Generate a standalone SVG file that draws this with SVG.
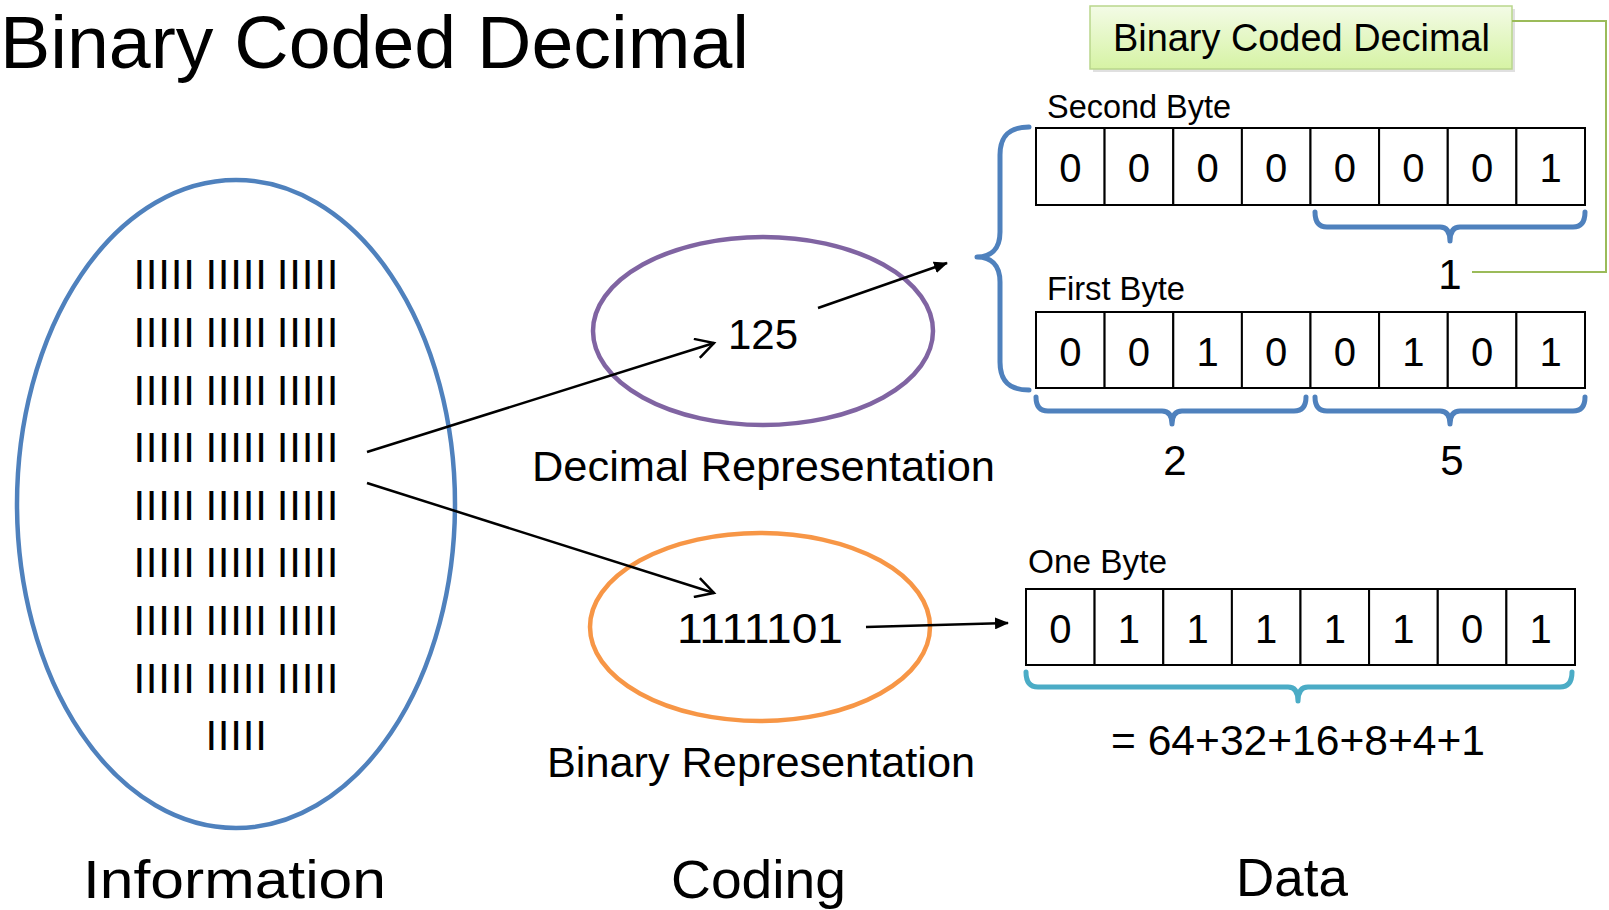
<svg xmlns="http://www.w3.org/2000/svg" width="1609" height="910" viewBox="0 0 1609 910">
<defs>
<style>
text{font-family:"Liberation Sans",Arial,sans-serif;fill:#000}
.cell{fill:#fff;stroke:#000;stroke-width:2}
.dg{font-size:40px;text-anchor:middle}
.num{font-size:42px}
.lbl{font-size:42px}
.byte{font-size:33px}
.big{font-size:53px}
.tally{font-size:42px;letter-spacing:0.8px}
.brace{fill:none;stroke:#4f81bd;stroke-width:5;stroke-linecap:round;stroke-linejoin:round}
.arrow{fill:none;stroke:#000;stroke-width:2.5}
</style>
<linearGradient id="gbox" x1="0" y1="0" x2="0" y2="1">
<stop offset="0" stop-color="#f3fbe6"/>
<stop offset="1" stop-color="#d6f3a4"/>
</linearGradient>
<marker id="tri" viewBox="0 0 14 12" refX="13" refY="6" markerWidth="14" markerHeight="12" markerUnits="userSpaceOnUse" orient="auto">
<path d="M0,0 L14,6 L0,12 z" fill="#000"/>
</marker>
<marker id="vee" viewBox="0 0 22 22" refX="19" refY="11" markerWidth="22" markerHeight="22" markerUnits="userSpaceOnUse" orient="auto">
<path d="M1,1 L19,11 L1,21" fill="none" stroke="#000" stroke-width="2.5"/>
</marker>
</defs>
<rect width="1609" height="910" fill="#fff"/>

<g id="title">
<text x="0" y="68" style="font-size:74px" textLength="749" lengthAdjust="spacingAndGlyphs">Binary Coded Decimal</text>
</g>

<g id="information">
<ellipse cx="236" cy="504" rx="219" ry="324" fill="none" stroke="#4f81bd" stroke-width="4.5"/>
<g class="tallies">
<text class="tally" y="289"><tspan x="133.4">IIIII</tspan><tspan x="205.4">IIIII</tspan><tspan x="276.8">IIIII</tspan></text>
<text class="tally" y="346.9"><tspan x="133.4">IIIII</tspan><tspan x="205.4">IIIII</tspan><tspan x="276.8">IIIII</tspan></text>
<text class="tally" y="404.5"><tspan x="133.4">IIIII</tspan><tspan x="205.4">IIIII</tspan><tspan x="276.8">IIIII</tspan></text>
<text class="tally" y="462.1"><tspan x="133.4">IIIII</tspan><tspan x="205.4">IIIII</tspan><tspan x="276.8">IIIII</tspan></text>
<text class="tally" y="519.7"><tspan x="133.4">IIIII</tspan><tspan x="205.4">IIIII</tspan><tspan x="276.8">IIIII</tspan></text>
<text class="tally" y="577.3"><tspan x="133.4">IIIII</tspan><tspan x="205.4">IIIII</tspan><tspan x="276.8">IIIII</tspan></text>
<text class="tally" y="634.9"><tspan x="133.4">IIIII</tspan><tspan x="205.4">IIIII</tspan><tspan x="276.8">IIIII</tspan></text>
<text class="tally" y="692.5"><tspan x="133.4">IIIII</tspan><tspan x="205.4">IIIII</tspan><tspan x="276.8">IIIII</tspan></text>
<text class="tally" y="750.1"><tspan x="205.4">IIIII</tspan></text>
</g>
<text class="big" x="83" y="898" textLength="303" lengthAdjust="spacingAndGlyphs">Information</text>
</g>

<g id="decimal">
<ellipse cx="763" cy="331" rx="170" ry="94" fill="none" stroke="#8064a2" stroke-width="4.5"/>
<text class="num" x="728" y="349">125</text>
<text class="lbl" x="532" y="481" textLength="463" lengthAdjust="spacingAndGlyphs">Decimal Representation</text>
</g>

<g id="binary">
<ellipse cx="760" cy="627" rx="170" ry="94" fill="none" stroke="#f79646" stroke-width="4.5"/>
<text class="num" x="677" y="643" textLength="166" lengthAdjust="spacingAndGlyphs">1111101</text>
<text class="lbl" x="547" y="777" textLength="428" lengthAdjust="spacingAndGlyphs">Binary Representation</text>
</g>

<g id="coding-label">
<text class="big" x="671" y="898" textLength="175" lengthAdjust="spacingAndGlyphs">Coding</text>
</g>

<g id="data-label">
<text class="big" x="1236" y="896" textLength="112" lengthAdjust="spacingAndGlyphs">Data</text>
</g>

<g id="bcd-box">
<rect x="1093" y="9" width="422" height="63" fill="#000" opacity="0.12"/>
<rect x="1090" y="6" width="422" height="63" fill="url(#gbox)" stroke="#b9d68c" stroke-width="1.5"/>
<text x="1113" y="51" style="font-size:38px" textLength="377" lengthAdjust="spacingAndGlyphs">Binary Coded Decimal</text>
</g>

<g id="second-byte">
<text class="byte" x="1047" y="118" textLength="184" lengthAdjust="spacingAndGlyphs">Second Byte</text>
<rect class="cell" x="1036" y="128" width="68.6" height="77"/>
<rect class="cell" x="1104.6" y="128" width="68.6" height="77"/>
<rect class="cell" x="1173.3" y="128" width="68.6" height="77"/>
<rect class="cell" x="1241.9" y="128" width="68.6" height="77"/>
<rect class="cell" x="1310.5" y="128" width="68.6" height="77"/>
<rect class="cell" x="1379.1" y="128" width="68.6" height="77"/>
<rect class="cell" x="1447.8" y="128" width="68.6" height="77"/>
<rect class="cell" x="1516.4" y="128" width="68.6" height="77"/>
<text class="dg" y="182"><tspan x="1070.3">0</tspan><tspan x="1138.9">0</tspan><tspan x="1207.6">0</tspan><tspan x="1276.2">0</tspan><tspan x="1344.8">0</tspan><tspan x="1413.4">0</tspan><tspan x="1482.1">0</tspan><tspan x="1550.7">1</tspan></text>
</g>

<g id="first-byte">
<text class="byte" x="1047" y="300" textLength="138" lengthAdjust="spacingAndGlyphs">First Byte</text>
<rect class="cell" x="1036" y="312" width="68.6" height="76"/>
<rect class="cell" x="1104.6" y="312" width="68.6" height="76"/>
<rect class="cell" x="1173.3" y="312" width="68.6" height="76"/>
<rect class="cell" x="1241.9" y="312" width="68.6" height="76"/>
<rect class="cell" x="1310.5" y="312" width="68.6" height="76"/>
<rect class="cell" x="1379.1" y="312" width="68.6" height="76"/>
<rect class="cell" x="1447.8" y="312" width="68.6" height="76"/>
<rect class="cell" x="1516.4" y="312" width="68.6" height="76"/>
<text class="dg" y="366"><tspan x="1070.3">0</tspan><tspan x="1138.9">0</tspan><tspan x="1207.6">1</tspan><tspan x="1276.2">0</tspan><tspan x="1344.8">0</tspan><tspan x="1413.4">1</tspan><tspan x="1482.1">0</tspan><tspan x="1550.7">1</tspan></text>
</g>

<g id="one-byte">
<text class="byte" x="1028" y="573" textLength="139" lengthAdjust="spacingAndGlyphs">One Byte</text>
<rect class="cell" x="1026" y="589" width="68.6" height="76"/>
<rect class="cell" x="1094.6" y="589" width="68.6" height="76"/>
<rect class="cell" x="1163.3" y="589" width="68.6" height="76"/>
<rect class="cell" x="1231.9" y="589" width="68.6" height="76"/>
<rect class="cell" x="1300.5" y="589" width="68.6" height="76"/>
<rect class="cell" x="1369.1" y="589" width="68.6" height="76"/>
<rect class="cell" x="1437.8" y="589" width="68.6" height="76"/>
<rect class="cell" x="1506.4" y="589" width="68.6" height="76"/>
<text class="dg" y="643"><tspan x="1060.3">0</tspan><tspan x="1128.9">1</tspan><tspan x="1197.6">1</tspan><tspan x="1266.2">1</tspan><tspan x="1334.8">1</tspan><tspan x="1403.4">1</tspan><tspan x="1472.1">0</tspan><tspan x="1540.7">1</tspan></text>
</g>

<g id="braces">
<path class="brace" d="M1029,127 C1010,127 1000,135 1000,155 L1000,232 C1000,250 990,257 977,257 C990,257 1000,264 1000,282 L1000,362 C1000,382 1010,390 1029,390"/>
<path class="brace" d="M1315,212 Q1315,227 1327,227 L1440,227 Q1450,227 1450,241 Q1450,227 1460,227 L1573,227 Q1585,227 1585,212"/>
<path class="brace" d="M1036,397 Q1036,411 1048,411 L1162,411 Q1172,411 1172,424 Q1172,411 1182,411 L1294,411 Q1306,411 1306,397"/>
<path class="brace" d="M1315,397 Q1315,411 1327,411 L1440,411 Q1450,411 1450,424 Q1450,411 1460,411 L1573,411 Q1585,411 1585,397"/>
<path class="brace" style="stroke:#4bacc6" d="M1026,672 Q1026,687 1038,687 L1288,687 Q1298,687 1298,701 Q1298,687 1308,687 L1560,687 Q1572,687 1572,672"/>
</g>

<g id="brace-values">
<text class="num" x="1450" y="289" text-anchor="middle">1</text>
<text class="num" x="1175" y="475" text-anchor="middle">2</text>
<text class="num" x="1452" y="475" text-anchor="middle">5</text>
<text class="num" x="1111" y="755" textLength="374" lengthAdjust="spacingAndGlyphs">= 64+32+16+8+4+1</text>
</g>

<g id="connectors">
<line class="arrow" x1="367" y1="452" x2="714" y2="343" marker-end="url(#vee)"/>
<line class="arrow" x1="367" y1="483" x2="714" y2="593" marker-end="url(#vee)"/>
<line class="arrow" x1="818" y1="308" x2="947" y2="263" marker-end="url(#tri)"/>
<line class="arrow" x1="866" y1="627" x2="1008" y2="623" marker-end="url(#tri)"/>
<polyline points="1512,21 1606,21 1606,272 1472,272" fill="none" stroke="#9bbb59" stroke-width="2"/>
</g>
</svg>
